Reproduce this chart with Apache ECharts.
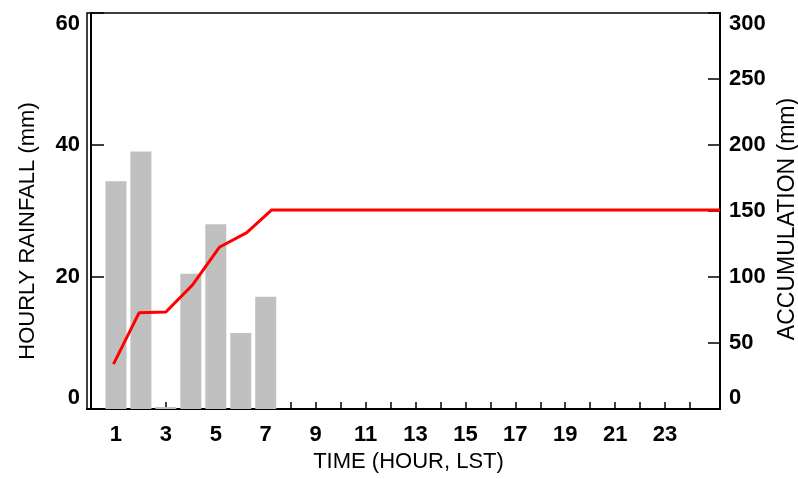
<!DOCTYPE html>
<html>
<head>
<meta charset="utf-8">
<script src="https://cdn.jsdelivr.net/npm/echarts@6/dist/echarts.min.js"></script>
<style>html,body{margin:0;padding:0;background:#fff;}#c{width:798px;height:479px;}</style>
</head>
<body>
<div id="c"></div>
<script>
// Data
var barHours = [1, 2, 3, 4, 5, 6, 7];
var hourlyRain = [34.5, 39.0, 0.3, 20.5, 28.0, 11.5, 17.0];
var accumHours = [0.9, 1.93, 3.0, 4.07, 5.14, 6.24, 7.24, 25.2];
var accumulation = [34, 73, 73.5, 94, 122.5, 133.6, 150.8, 150.8];
var xTicks = [1,2,3,4,5,6,7,8,9,10,11,12,13,14,15,16,17,18,19,20,21,22,23,24];
var xLabels = [1,3,5,7,9,11,13,15,17,19,21,23];

var FONT = 'Liberation Sans, Arial, sans-serif';
var chart = echarts.init(document.getElementById('c'), null, {renderer: 'canvas'});
chart.setOption({
  animation: false,
  backgroundColor: '#fff',
  grid: {left: 87, right: 78, top: 13, bottom: 70, containLabel: false, outerBoundsMode: 'none',
    show: true, borderColor: '#000', borderWidth: 1.5, backgroundColor: 'transparent'},
  xAxis: {
    type: 'value', min: -0.16, max: 25.2,
    name: 'TIME (HOUR, LST)', nameLocation: 'middle', nameGap: 41,
    nameTextStyle: {fontFamily: FONT, fontSize: 22, color: '#000', padding: [0, 0, 0, 10]},
    axisLine: {show: true, onZero: false, lineStyle: {color: '#000', width: 2}},
    axisTick: {show: true, inside: true, length: 7, lineStyle: {color: '#000', width: 1.5}, customValues: xTicks},
    axisLabel: {fontFamily: FONT, fontSize: 22, fontWeight: 'bold', color: '#000', margin: 15, customValues: xLabels},
    splitLine: {show: false}
  },
  yAxis: [{
    type: 'value', min: 0, max: 60, interval: 20, position: 'left',
    name: 'HOURLY RAINFALL (mm)', nameLocation: 'middle', nameGap: 48, nameRotate: 90,
    nameTextStyle: {fontFamily: FONT, fontSize: 22, color: '#000', padding: [0, 40, 0, 0]},
    axisLine: {show: true, lineStyle: {color: '#000', width: 2}},
    axisTick: {show: true, inside: true, length: 13, lineStyle: {color: '#000', width: 1.5}},
    axisLabel: {fontFamily: FONT, fontSize: 22, fontWeight: 'bold', color: '#000', margin: 7,
      verticalAlignMinLabel: 'bottom', verticalAlignMaxLabel: 'top'},
    splitLine: {show: false}
  }, {
    type: 'value', min: 0, max: 300, interval: 50, position: 'right',
    name: 'ACCUMULATION (mm)', nameLocation: 'middle', nameGap: 56, nameRotate: 90,
    nameTextStyle: {fontFamily: FONT, fontSize: 23, color: '#000', padding: [0, 16, 0, 0]},
    axisLine: {show: true, lineStyle: {color: '#000', width: 2}},
    axisTick: {show: true, inside: true, length: 12, lineStyle: {color: '#000', width: 1.5}},
    axisLabel: {fontFamily: FONT, fontSize: 22, fontWeight: 'bold', color: '#000', margin: 9,
      verticalAlignMinLabel: 'bottom', verticalAlignMaxLabel: 'top'},
    splitLine: {show: false}
  }],
  series: [{
    type: 'bar', yAxisIndex: 0, barWidth: 21,
    itemStyle: {color: '#c0c0c0'},
    data: barHours.map(function (h, i) { return [h, hourlyRain[i]]; })
  }, {
    type: 'line', yAxisIndex: 1, symbol: 'none', clip: true,
    lineStyle: {color: '#ff0000', width: 3},
    data: accumHours.map(function (h, i) { return [h, accumulation[i]]; })
  }]
});
</script>
</body>
</html>
